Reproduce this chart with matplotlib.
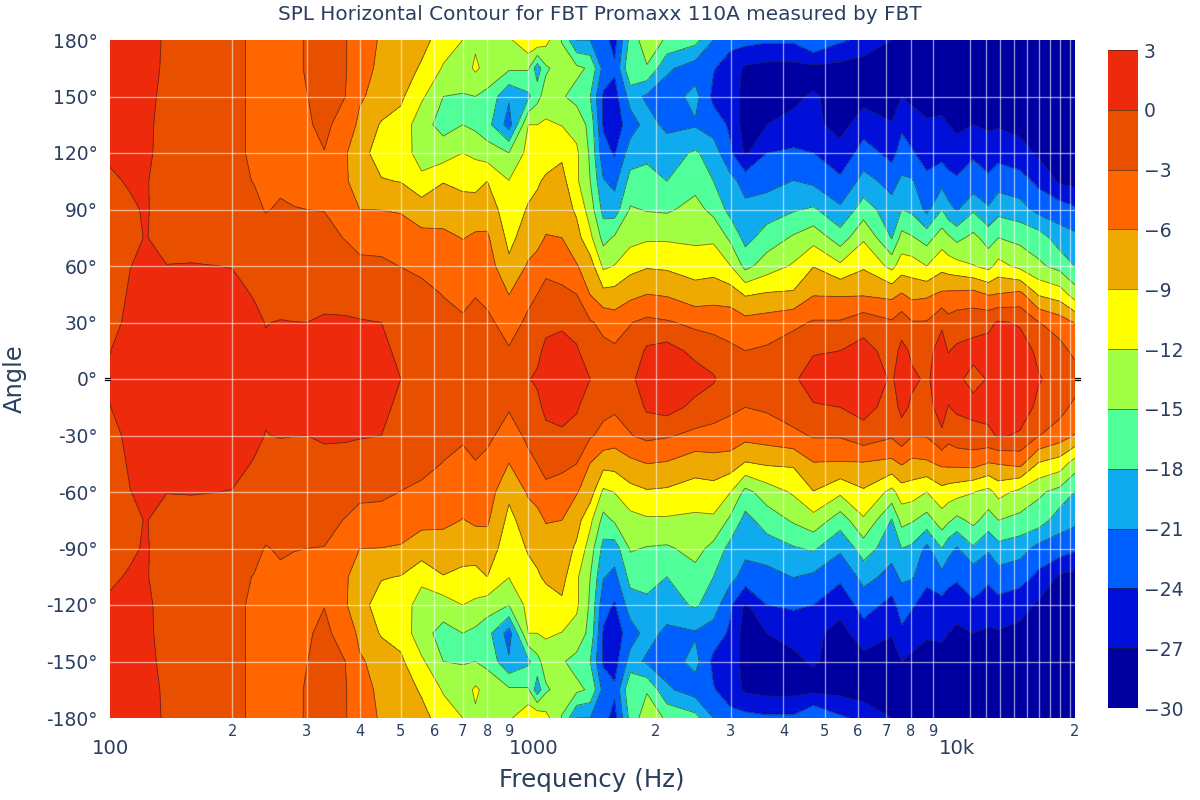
#!/usr/bin/env python3
"""SPL horizontal contour for the FBT Promaxx 110A"""

import matplotlib
matplotlib.use('Agg')
import matplotlib.pyplot as plt
from matplotlib.transforms import blended_transform_factory
import numpy as np

# angles of the upper half, the lower half is drawn as its mirror
angles = [0, 15, 30, 45, 60, 75, 90, 105, 120, 135, 150, 165, 180]

freqs = [103, 115, 125, 140, 160, 200, 225, 240, 260, 280, 300, 330, 370, 400,
         450, 500, 560, 630, 700, 750, 800, 900, 1000, 1050, 1100, 1200, 1300,
         1400, 1503, 1598, 1740, 1905, 2124, 2477, 2735, 2995, 3250, 3656,
         4225, 4708, 5445, 6178, 7206, 7600, 8035, 8715, 9460, 9800, 10260, 11220,
         12180, 12860, 14460, 16000, 17980, 19500]

# one list per frequency, SPL in dB at each angle from 0 to 180
spl_columns = [
    [.3, -.05, -1, -1.5, -1.5, -1.2, -1, -.3, .3, .8, 1, 1.2, 1.2],
    [1.5, 1.2, .8, .4, -.05, -.5, -.3, .2, .8, 1.2, 1.5, 1.5, 1.5],
    [2, 2, 1.5, 1, .6, .1, .2, .2, .5, .6, .8, .8, .8],
    [2, 2, 1.8, .8, .05, -.8, -1, -1.2, -1, -1, -.8, -.4, -.3],
    [2, 2, 1.5, .8, .1, -.8, -1.2, -1.5, -1.6, -1.7, -1.7, -1.7, -1.7],
    [1.5, 1.5, 1, .5, -.05, -1, -1.6, -2.6, -2.7, -2.7, -2.7, -2.7, -2.7],
    [1, .8, .4, -.1, -1, -1.8, -2.5, -3.05, -3.2, -3.2, -3.2, -3.2, -3.2],
    [.7, .2, -.05, -1, -1.7, -2.3, -3.1, -3.5, -3.7, -3.8, -3.8, -3.8, -3.7],
    [.7, .3, .1, -.9, -1.7, -2.2, -2.8, -3.3, -3.7, -3.8, -3.9, -3.9, -3.9],
    [.8, .3, .03, -.9, -1.7, -2.3, -2.95, -3.4, -3.7, -3.7, -3.6, -3.5, -3.5],
    [.9, .3, 0, -1, -1.7, -2.3, -3, -3.4, -3.4, -3.2, -3.05, -2.8, -2.8],
    [1, .7, .3, -.7, -1.7, -2.4, -3.05, -3.3, -3.05, -2.6, -2.3, -2.1, -2.1],
    [1, .6, .2, -.6, -2, -3.1, -3.6, -5.8, -5.7, -3.8, -3, -2.8, -2.8],
    [.8, .4, .1, -.7, -2.6, -3.6, -6, -6.8, -8, -6.8, -5.6, -5, -4.8],
    [.8, .5, 0, -1.2, -2.6, -3.8, -6.05, -8.8, -10.3, -9.3, -7.2, -6.6, -6.3],
    [0, -.5, -1.2, -1.8, -3.05, -4.3, -6.3, -9.1, -10, -10, -8.5, -7.5, -7],
    [-.7, -1, -1.5, -2.2, -3.6, -5.2, -7.5, -11, -13.8, -14, -11.5, -9.4, -8],
    [-1.2, -1.5, -2, -3.1, -4, -5.3, -7.5, -9.1, -13.5, -16, -15, -12.3, -10.5],
    [-1.7, -2.2, -2.7, -3.6, -4.8, -6.1, -7.8, -9.7, -12, -15, -15.2, -13.5, -12],
    [-1.5, -2, -2.3, -3.1, -4.4, -5.6, -7.5, -10, -12.6, -15.7, -15, -11.5, -12.5],
    [-1.8, -2.2, -2.5, -3.6, -4.6, -5.6, -7.3, -9, -13.5, -17, -15.8, -13, -12.5],
    [-2.2, -2.8, -4, -6.05, -8.4, -9.8, -10.8, -11.9, -15, -22.3, -20.6, -14.5, -12.5],
    [-.1, -1.4, -2.5, -3.6, -5.6, -7.5, -8.7, -10, -11, -12, -18.6, -14.7, -9.5],
    [.3, -.5, -2, -3, -4.8, -7, -8.3, -9.3, -10.6, -12, -16, -19.8, -9.3],
    [.8, .5, -.6, -2, -3.8, -5.8, -7.5, -8.6, -10.2, -11.6, -13.5, -15.5, -11],
    [1, .7, -.3, -2.6, -3.8, -6, -7.5, -8, -9.5, -12.1, -14.7, -13.5, -15.2],
    [.6, .3, -1, -3, -5.8, -7.9, -9.5, -11.5, -11.5, -13, -16, -14.3, -21],
    [0, -1.5, -2.7, -6.1, -7.6, -11.3, -13.5, -15, -15.5, -16, -18, -15.5, -21],
    [-1, -2.2, -3.8, -8, -12.6, -16, -19, -20.8, -23, -24.3, -24.5, -22, -23],
    [-1.2, -2.5, -4.5, -7.9, -11.9, -14.6, -19.5, -21.8, -24.3, -25.5, -25.2, -23.5, -25],
    [-.6, -2.2, -3.1, -6.8, -10, -13, -14.7, -17, -19.5, -22.5, -19.8, -15.2, -17],
    [1.5, .5, -2.3, -6, -9.3, -12.4, -15.2, -16.9, -18.7, -19.8, -21.5, -15.3, -13],
    [1.7, 1.2, -2.7, -6.3, -9.5, -12.4, -15.4, -18, -19.2, -21.8, -22.5, -20.5, -15.5],
    [1.5, -.9, -3.7, -7.8, -10.2, -12.7, -14, -16, -17.6, -21.3, -20, -22.5, -17],
    [.3, -1.5, -4.1, -7.2, -10.2, -12.5, -15.9, -18, -19.5, -22.4, -24.8, -23.8, -21],
    [-1.8, -2.5, -4.2, -7.5, -11.9, -15.6, -19, -20, -23.5, -24.5, -25.5, -25.5, -23],
    [-2.1, -3, -5, -9.3, -15.9, -19, -20.2, -22.2, -27.5, -28.4, -28, -27.5, -23],
    [-1.5, -2.6, -4.6, -8.7, -13.5, -16.6, -19.5, -22, -24, -27, -28, -28, -23.5],
    [-.3, -1.3, -3.7, -8.6, -11.6, -14.6, -18.3, -20.9, -23.4, -26.6, -27.3, -28, -23.5],
    [1, -.2, -2.7, -6.2, -9.1, -13.1, -17.6, -21.6, -24, -26.4, -26.8, -27.8, -21],
    [1.5, 0, -2.7, -6.3, -11.4, -16.6, -20.5, -23.4, -26, -28, -27.7, -28, -23.5],
    [1.6, 1, -1.2, -6.3, -9.4, -12.4, -16.5, -20, -22.7, -25.4, -28, -28.5, -25],
    [-.3, -1.2, -2.6, -6.8, -12.9, -18.2, -19.9, -22, -25, -26.8, -28.5, -28.5, -27],
    [1.3, .7, -1.2, -5.8, -10.5, -14, -18, -20.5, -22.8, -24.5, -27, -28, -28.5],
    [.4, -.4, -2.8, -6.8, -10.6, -14.7, -18.6, -20.7, -23.6, -26, -27.5, -28.5, -28.5],
    [-.3, -.6, -2.8, -6.5, -12, -16.2, -21.8, -23, -25.7, -26.7, -28, -28.5, -29],
    [1.2, .8, -.3, -5.5, -10, -13.4, -18, -22, -25, -26.5, -28, -28.5, -28],
    [1, -.1, -2, -5.4, -10.5, -14.5, -20, -23, -25.5, -27, -28.5, -29, -29],
    [.5, .4, -1.2, -5.3, -10.9, -15.8, -21.3, -23.5, -26, -27.5, -28.5, -29, -29],
    [-.8, .8, -.9, -5, -11.9, -14.2, -18.4, -23, -24.3, -27, -28.5, -29, -29],
    [.2, 1, -.6, -6.2, -12.9, -16.3, -20.6, -23.5, -25.3, -27.5, -28.8, -29, -29],
    [1, 1, .3, -5.9, -11, -15, -19, -22.3, -25, -27.3, -29, -29, -29],
    [1.5, 1.3, -.3, -5.2, -12.8, -15.8, -19.8, -22.9, -25.7, -28, -29, -29, -29],
    [.2, -.6, -2.9, -9.3, -14.5, -16.5, -22, -24.7, -27.5, -29, -29.5, -29.5, -29.5],
    [-1, -2, -4.5, -10.5, -16, -19.7, -22.5, -27.5, -29, -29.5, -29.5, -29.5, -29.5],
    [-1.5, -3.8, -6.2, -13.5, -18.1, -20.3, -23.5, -28, -29.5, -29.5, -29.5, -29.5, -29.5],
]

levels = [-30, -27, -24, -21, -18, -15, -12, -9, -6, -3, 0, 3]
level_colors = ['#0000a0', '#0010d8', '#0060ff', '#10aaee', '#50ff99', '#a0ff44',
                '#ffff00', '#eeaa00', '#ff6600', '#e85000', '#ee2a0c']

angle_ticks = [-180, -150, -120, -90, -60, -30, 0, 30, 60, 90, 120, 150, 180]
grid_freqs = [200, 300, 400, 500, 600, 700, 800, 1000, 2000, 3000, 4000, 5000,
              6000, 7000, 8000, 9000, 11000, 12000, 13000, 14000, 15000, 16000,
              17000, 18000, 19000]
small_labels = [(200, '2'), (300, '3'), (400, '4'), (500, '5'), (600, '6'), (700, '7'),
                (800, '8'), (900, '9'), (2000, '2'), (3000, '3'), (4000, '4'),
                (5000, '5'), (6000, '6'), (7000, '7'), (8000, '8'), (9000, '9'),
                (19500, '2')]
big_labels = [(103, '100'), (1027, '1000'), (10270, '10k')]

TEXT = '#2a3f5f'
W, H = 1200, 800


def px_box(left, top, right, bottom):
    return [left / W, 1 - bottom / H, (right - left) / W, (bottom - top) / H]


def main():
    upper = np.array(spl_columns).T
    z = np.vstack([upper[:0:-1], upper])
    y = np.concatenate([-np.array(angles[:0:-1]), angles])

    fig = plt.figure(figsize=(W / 100, H / 100), dpi=100)
    ax = fig.add_axes(px_box(110, 40, 1075, 718))
    cf = ax.contourf(freqs, y, z, levels=levels, colors=level_colors)
    ax.contour(freqs, y, z, levels=levels, colors='#222222', linewidths=0.6,
               alpha=0.65, linestyles='solid')
    ax.set_xscale('log')
    ax.set_xlim(freqs[0], freqs[-1])
    ax.set_ylim(-180, 180)

    for f in grid_freqs:
        ax.axvline(f, color='white', lw=1, alpha=0.55)
    for a in angle_ticks[1:-1]:
        ax.axhline(a, color='white', lw=1, alpha=0.55)

    ax.xaxis.set_major_locator(plt.NullLocator())
    ax.xaxis.set_minor_locator(plt.NullLocator())
    ax.set_yticks(angle_ticks)
    ax.set_yticklabels([f'{a}°' for a in angle_ticks], fontsize=13.5, color=TEXT)
    ax.tick_params(axis='y', length=0, pad=9)
    for spine in ax.spines.values():
        spine.set_visible(False)

    # plotly's zero line sticks out of the plot on both sides
    for side in [(-0.005, 0), (1, 1.005)]:
        for offs in (-0.5, 0.5):
            ax.plot(side, [offs, offs], color='black', lw=0.9, clip_on=False,
                    transform=ax.get_yaxis_transform())

    trans = blended_transform_factory(ax.transData, fig.transFigure)
    for f, label in small_labels:
        ax.text(f, 1 - 731 / H, label, transform=trans, ha='center', va='center',
                fontsize=10.5, color=TEXT)
    for f, label in big_labels:
        ax.text(f, 1 - 749 / H, label, transform=trans, ha='center', va='center',
                fontsize=14.2, color=TEXT)

    fig.text(600 / W, 1 - 14 / H, 'SPL Horizontal Contour for FBT Promaxx 110A measured by FBT',
             ha='center', va='center', fontsize=14.4, color=TEXT)
    fig.text(592 / W, 1 - 780 / H, 'Frequency (Hz)', ha='center', va='center',
             fontsize=17.7, color=TEXT)
    fig.text(15 / W, 1 - 379 / H, 'Angle', ha='center', va='center', rotation=90,
             fontsize=17.4, color=TEXT)

    cax = fig.add_axes(px_box(1108, 50, 1138, 708))
    cbar = fig.colorbar(cf, cax=cax, ticks=levels)
    cbar.outline.set_visible(False)
    for lev in levels:
        cax.axhline(lev, color='#222222', lw=0.6, alpha=0.65)
    cax.tick_params(length=0, pad=4, labelsize=13.5, labelcolor=TEXT)
    cax.set_yticklabels([str(v).replace('-', '\u2212') for v in levels])

    fig.savefig('out.png', dpi=100)
    plt.close(fig)


if __name__ == "__main__":
    main()
